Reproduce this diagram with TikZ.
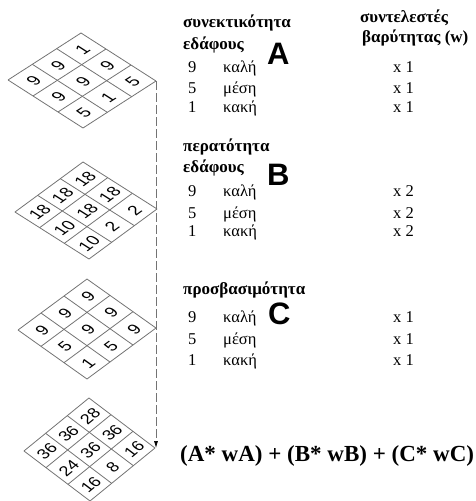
\documentclass[tikz,border=0pt]{standalone}
\usepackage{fontspec}
\setmainfont{Liberation Serif}
\newfontfamily\digitfont{Liberation Sans}
\usetikzlibrary{arrows.meta}

\newcommand\isogrid[7]{%
  % #1 name, #2 bottom vertex, #3 a, #4 b, #5 c, #6 d, #7 list of 9 numbers (u,v) row by row from v=0
  \begin{scope}[cm={#3,#4,#5,#6,(#2)}, x=29pt, y=29pt]
    \foreach \k in {0,...,3} {
      \draw[gridline] (\k,0) -- (\k,3);
      \draw[gridline] (0,\k) -- (3,\k);
    }
    \coordinate (#1r) at (3,0);
    \foreach \val [count=\n from 0] in {#7} {
      \pgfmathtruncatemacro\ii{mod(\n,3)}
      \pgfmathtruncatemacro\jj{div(\n,3)}
      \node[cellnum] (#1c\ii\jj) at (\ii+0.5,\jj+0.45) {\val};
    }
  \end{scope}
}

\begin{document}
\begin{tikzpicture}[x=1pt,y=1pt,
  gridline/.style={draw=black!55, line width=0.8pt},
  cellnum/.style={transform shape, font=\digitfont\fontsize{17}{17}\selectfont, inner sep=0pt},
  head/.style={anchor=base west, inner sep=0pt, font=\bfseries\fontsize{17}{18}\selectfont},
  txt/.style={anchor=base west, inner sep=0pt, font=\fontsize{16.5}{18}\selectfont},
  bigletter/.style={anchor=base west, inner sep=0pt, font=\digitfont\bfseries\fontsize{31}{31}\selectfont},
  formula/.style={anchor=base west, inner sep=0pt, font=\bfseries\fontsize{23}{25}\selectfont},
  flowline/.style={draw=black!55, line width=0.7pt, dash pattern=on 9pt off 3pt,
    -{Latex[length=7pt,width=4pt,fill=black,color=black]}}
]
\useasboundingbox (0,0) rectangle (476,501);

% grids
\isogrid{ga}{83,373}{0.839}{0.540}{-0.862}{0.552}{5,1,5,9,9,9,9,9,1}
\isogrid{gb}{89,242}{0.782}{0.575}{-0.851}{0.540}{10,2,2,10,18,18,18,18,18}
\isogrid{gc}{87,122}{0.793}{0.586}{-0.793}{0.563}{1,5,9,5,9,9,9,9,9}
\isogrid{gd}{90,0}{0.747}{0.609}{-0.759}{0.575}{16,8,16,24,36,36,36,36,28}

% dashed connector
\draw[flowline] (gar) -- (gar |- gdr);

% section A
\node[head] (hA1) at (183,473) {συνεκτικότητα};
\node[head] (hA2) at (183,451) {εδάφους};
\node[bigletter] (LA) at (267,436) {A};
\node[head] (hw1) at (360,478) {συντελεστές};
\node[head] (hw2) at (362,458) {βαρύτητας (w)};
\node[txt] (a9) at (188,428) {9};
\node[txt] (a5) at (188,407) {5};
\node[txt] (a1) at (188,388) {1};
\node[txt] (aq9) at (223,428) {καλή};
\node[txt] (aq5) at (223,407) {μέση};
\node[txt] (aq1) at (223,388) {κακή};
\node[txt] (aw9) at (393,428) {x 1};
\node[txt] (aw5) at (393,407) {x 1};
\node[txt] (aw1) at (393,388) {x 1};

% section B
\node[head] (hB1) at (183,349) {περατότητα};
\node[head] (hB2) at (183,328) {εδάφους};
\node[bigletter] (LB) at (267,315) {B};
\node[txt] (b9) at (188,304) {9};
\node[txt] (b5) at (188,282) {5};
\node[txt] (b1) at (188,264) {1};
\node[txt] (bq9) at (223,304) {καλή};
\node[txt] (bq5) at (223,282) {μέση};
\node[txt] (bq1) at (223,264) {κακή};
\node[txt] (bw9) at (393,304) {x 2};
\node[txt] (bw5) at (393,282) {x 2};
\node[txt] (bw1) at (393,264) {x 2};

% section C
\node[head] (hC1) at (183,206) {προσβασιμότητα};
\node[bigletter] (LC) at (268,176) {C};
\node[txt] (c9) at (188,178) {9};
\node[txt] (c5) at (188,156) {5};
\node[txt] (c1) at (188,135) {1};
\node[txt] (cq9) at (223,178) {καλή};
\node[txt] (cq5) at (223,156) {μέση};
\node[txt] (cq1) at (223,135) {κακή};
\node[txt] (cw9) at (393,178) {x 1};
\node[txt] (cw5) at (393,156) {x 1};
\node[txt] (cw1) at (393,135) {x 1};

% formula
\node[formula] (F) at (180,39) {(A* wA) + (B* wB) + (C* wC)};
\end{tikzpicture}
\end{document}
